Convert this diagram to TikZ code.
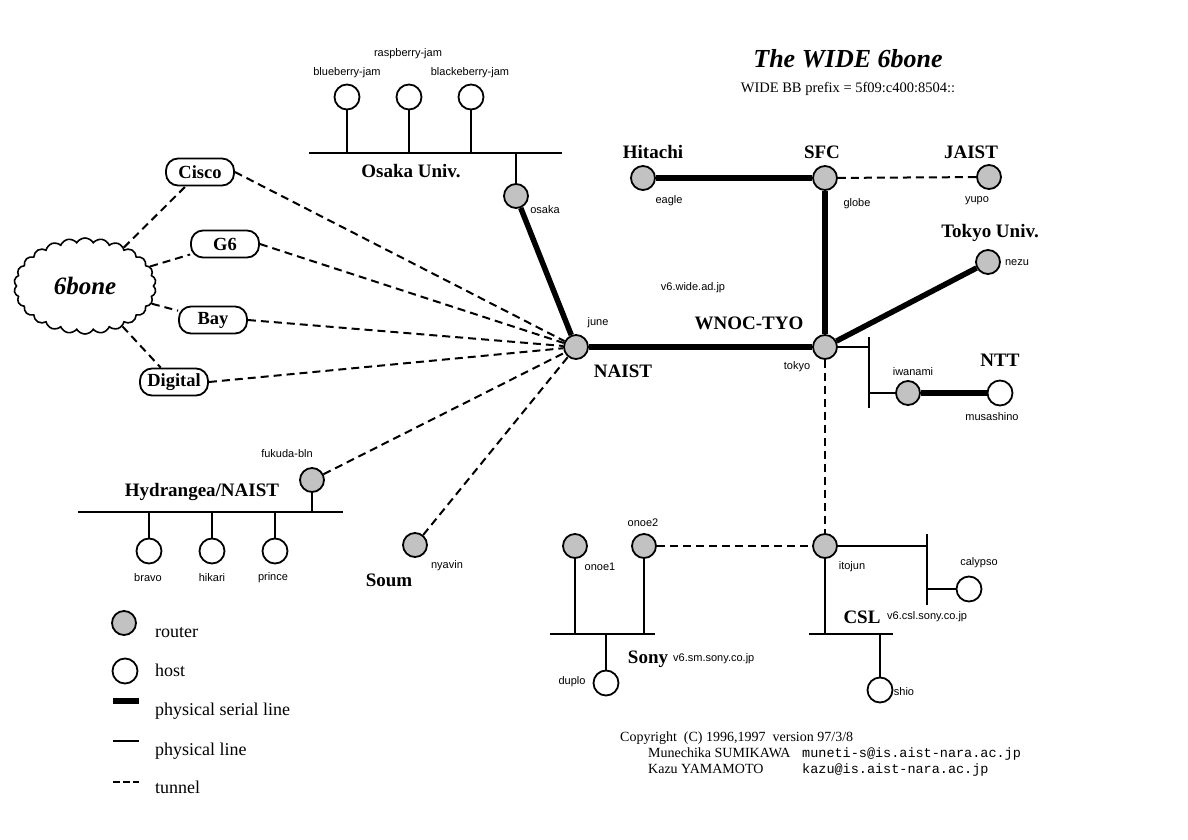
\documentclass[tikz,border=0pt]{standalone}
\usepackage{fontspec}
\setmainfont{Liberation Serif}
\setsansfont{Liberation Sans}
\setmonofont{Liberation Mono}
\usetikzlibrary{shapes.symbols}
\begin{document}
\begin{tikzpicture}[x=1pt,y=-1pt,
	router/.style={circle, draw=black, line width=1.8pt, fill=black!24, minimum size=24pt, inner sep=0pt},
	host/.style={circle, draw=black, line width=1.8pt, fill=white, minimum size=25pt, inner sep=0pt},
	serial/.style={line width=5.5pt},
	phys/.style={line width=2.4pt},
	tunnel/.style={line width=2pt, dash pattern=on 8pt off 5pt},
	site/.style={font=\bfseries\fontsize{19}{21}\selectfont, inner sep=0pt},
	hname/.style={font=\sffamily\fontsize{11}{12}\selectfont, inner sep=0pt},
	isp/.style={draw=black, line width=1.8pt, rounded corners=12pt, minimum width=68pt, minimum height=27pt, inner sep=0pt, font=\bfseries\fontsize{18.5}{20}\selectfont},
	legtext/.style={anchor=base west, inner sep=0pt, font=\fontsize{18}{20}\selectfont}]
	\useasboundingbox (0,0) rectangle (1188,840);

	\node[font=\bfseries\itshape\fontsize{26}{30}\selectfont, inner sep=0pt] (title) at (848,59) {The WIDE 6bone};
	\node[font=\fontsize{14.5}{16}\selectfont, inner sep=0pt] (prefix) at (848,89) {WIDE BB prefix = 5f09:c400:8504::};

	\node[cloud, draw=black, line width=1.6pt, cloud puffs=26, cloud puff arc=120, minimum width=142pt, minimum height=96pt, inner sep=0pt, font=\bfseries\itshape\fontsize{25}{28}\selectfont] (sixbone) at (85,286) {6bone};
	\node[isp] (cisco) at (200,172) {Cisco};
	\node[isp] (gsix) at (225,244) {G6};
	\node[isp] (bay) at (213,320) {Bay};
	\node[isp] (digital) at (174,382) {Digital};

	\node[router] (osaka) at (516,196) {};
	\node[router] (june) at (576,347) {};
	\node[router] (eagle) at (643,178) {};
	\node[router] (globe) at (825,178) {};
	\node[router] (yupo) at (989,177) {};
	\node[router] (nezu) at (988,262) {};
	\node[router] (tokyo) at (825,347) {};
	\node[router] (iwanami) at (908,393) {};
	\node[router] (fukuda) at (312,480) {};
	\node[router] (nyavin) at (415,545) {};
	\node[router] (onoeA) at (575,546) {};
	\node[router] (onoeB) at (644,546) {};
	\node[router] (itojun) at (825,546) {};

	\node[host] (blueberry) at (347,97) {};
	\node[host] (raspberry) at (409,97) {};
	\node[host] (blackeberry) at (471,97) {};
	\node[host] (musashino) at (1000,393) {};
	\node[host] (bravo) at (149,551) {};
	\node[host] (hikari) at (212,551) {};
	\node[host] (prince) at (275,551) {};
	\node[host] (calypso) at (969,589) {};
	\node[host] (duplo) at (606,683) {};
	\node[host] (shio) at (880,690) {};

	\coordinate (osuL) at (309,153);
	\coordinate (osuR) at (562,153);
	\coordinate (hydL) at (78,512);
	\coordinate (hydR) at (343,512);
	\coordinate (tyoT) at (869,337);
	\coordinate (tyoB) at (869,408);
	\coordinate (itoT) at (927,534);
	\coordinate (itoB) at (927,605);
	\coordinate (sonyL) at (550,634);
	\coordinate (sonyR) at (655,634);
	\coordinate (cslL) at (809,634);
	\coordinate (cslR) at (893,634);

	\draw[phys] (osuL) -- (osuR);
	\draw[phys] (blueberry) -- (blueberry |- osuL);
	\draw[phys] (raspberry) -- (raspberry |- osuL);
	\draw[phys] (blackeberry) -- (blackeberry |- osuL);
	\draw[phys] (osaka) -- (osaka |- osuL);
	\draw[phys] (hydL) -- (hydR);
	\draw[phys] (fukuda) -- (fukuda |- hydL);
	\draw[phys] (bravo) -- (bravo |- hydL);
	\draw[phys] (hikari) -- (hikari |- hydL);
	\draw[phys] (prince) -- (prince |- hydL);
	\draw[phys] (tyoT) -- (tyoB);
	\draw[phys] (tokyo) -- (tokyo -| tyoT);
	\draw[phys] (iwanami) -- (iwanami -| tyoT);
	\draw[phys] (itoT) -- (itoB);
	\draw[phys] (itojun) -- (itojun -| itoT);
	\draw[phys] (calypso) -- (calypso -| itoT);
	\draw[phys] (sonyL) -- (sonyR);
	\draw[phys] (onoeA) -- (onoeA |- sonyL);
	\draw[phys] (onoeB) -- (onoeB |- sonyL);
	\draw[phys] (duplo) -- (duplo |- sonyL);
	\draw[phys] (cslL) -- (cslR);
	\draw[phys] (itojun) -- (itojun |- cslL);
	\draw[phys] (shio) -- (shio |- cslL);

	\draw[serial] (osaka) -- (june);
	\draw[serial] (june) -- (tokyo);
	\draw[serial] (eagle) -- (globe);
	\draw[serial] (globe) -- (tokyo);
	\draw[serial] (tokyo) -- (nezu);
	\draw[serial] (iwanami) -- (musashino);

	\draw[tunnel] (sixbone) -- (cisco);
	\draw[tunnel] (sixbone) -- (gsix);
	\draw[tunnel] (sixbone) -- (bay);
	\draw[tunnel] (sixbone) -- (digital);
	\draw[tunnel] (cisco.east) -- (june);
	\draw[tunnel] (gsix.east) -- (june);
	\draw[tunnel] (bay.east) -- (june);
	\draw[tunnel] (digital.east) -- (june);
	\draw[tunnel] (fukuda) -- (june);
	\draw[tunnel] (nyavin) -- (june);
	\draw[tunnel] (globe) -- (yupo);
	\draw[tunnel] (tokyo) -- (itojun);
	\draw[tunnel] (onoeB) -- (itojun);

	\node[site] (losakau) at (411,171) {Osaka Univ.};
	\node[site] (lhitachi) at (653,152) {Hitachi};
	\node[site] (lsfc) at (822,152) {SFC};
	\node[site] (ljaist) at (971,152) {JAIST};
	\node[site] (ltokyou) at (990,233) {Tokyo Univ.};
	\node[site] (lnaist) at (623,371) {NAIST};
	\node[site] (lwnoc) at (749,323) {WNOC-TYO};
	\node[site] (lntt) at (1000,360) {NTT};
	\node[site] (lhyd) at (202,492) {Hydrangea/NAIST};
	\node[site] (lsoum) at (389,580) {Soum};
	\node[site] (lcsl) at (862,617) {CSL};
	\node[site] (lsony) at (648,659) {Sony};

	\node[hname] (lblueberry) at (347,73) {blueberry-jam};
	\node[hname] (lraspberry) at (408,54) {raspberry-jam};
	\node[hname] (lblackeberry) at (470,73) {blackeberry-jam};
	\node[hname] (losaka) at (545,210) {osaka};
	\node[hname] (leagle) at (669,201) {eagle};
	\node[hname] (lglobe) at (857,204) {globe};
	\node[hname] (lyupo) at (977,201) {yupo};
	\node[hname] (lnezu) at (1017,263) {nezu};
	\node[hname] (lwide) at (693,288) {v6.wide.ad.jp};
	\node[hname] (ljune) at (598,323) {june};
	\node[hname] (ltokyo) at (797,367) {tokyo};
	\node[hname] (liwanami) at (913,372) {iwanami};
	\node[hname] (lmusashino) at (992,417) {musashino};
	\node[hname] (lfukuda) at (287,454) {fukuda-bln};
	\node[hname] (lbravo) at (148,578) {bravo};
	\node[hname] (lhikari) at (212,578) {hikari};
	\node[hname] (lprince) at (273,578) {prince};
	\node[hname] (lnyavin) at (447,566) {nyavin};
	\node[hname] (lonoeB) at (643,523) {onoe2};
	\node[hname] (lonoeA) at (600,567) {onoe1};
	\node[hname] (litojun) at (852,567) {itojun};
	\node[hname] (lcalypso) at (979,563) {calypso};
	\node[hname, anchor=west] (lcslnet) at (887,617) {v6.csl.sony.co.jp};
	\node[hname, anchor=west] (lsonynet) at (673,659) {v6.sm.sony.co.jp};
	\node[hname] (lduplo) at (572,682) {duplo};
	\node[hname] (lshio) at (904,692) {shio};

	\node[router] (legrouter) at (124,623) {};
	\node[host] (leghost) at (125,671) {};
	\coordinate (legSa) at (113,701);
	\coordinate (legSb) at (139,701);
	\coordinate (legPa) at (113,741);
	\coordinate (legPb) at (139,741);
	\coordinate (legTa) at (113,782);
	\coordinate (legTb) at (139,782);
	\draw[serial] (legSa) -- (legSb);
	\draw[phys] (legPa) -- (legPb);
	\draw[line width=2pt, dash pattern=on 7pt off 3pt] (legTa) -- (legTb);
	\node[legtext] (lrouter) at (155,637) {router};
	\node[legtext] (lhost) at (155,676) {host};
	\node[legtext] (lserial) at (155,715) {physical serial line};
	\node[legtext] (lphys) at (155,755) {physical line};
	\node[legtext] (ltunnel) at (155,793) {tunnel};

	\node[anchor=base west, inner sep=0pt, font=\fontsize{14}{16}\selectfont] (copyr) at (620,741) {Copyright\ \ (C) 1996,1997\ \ version 97/3/8};
	\node[anchor=base west, inner sep=0pt, font=\fontsize{14}{16}\selectfont] (author1) at (648,757) {Munechika SUMIKAWA};
	\node[anchor=base west, inner sep=0pt, font=\ttfamily\fontsize{13.5}{16}\selectfont] (mail1) at (802,757) {muneti-s@is.aist-nara.ac.jp};
	\node[anchor=base west, inner sep=0pt, font=\fontsize{14}{16}\selectfont] (author2) at (648,773) {Kazu YAMAMOTO};
	\node[anchor=base west, inner sep=0pt, font=\ttfamily\fontsize{13.5}{16}\selectfont] (mail2) at (802,773) {kazu@is.aist-nara.ac.jp};
\end{tikzpicture}
\end{document}
